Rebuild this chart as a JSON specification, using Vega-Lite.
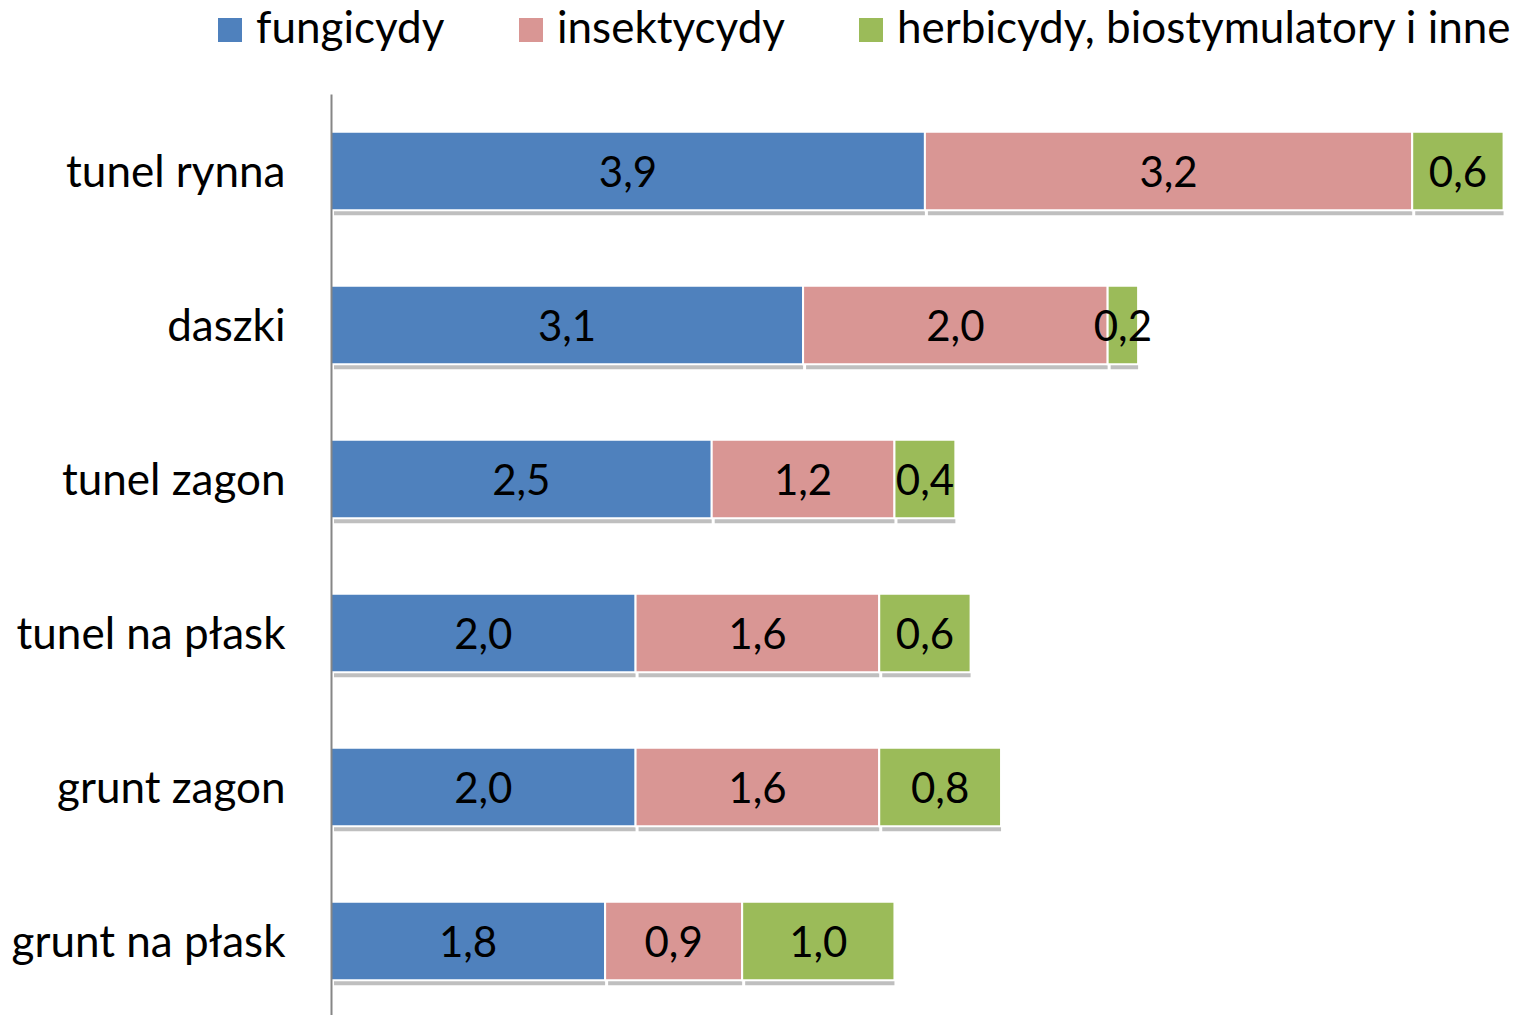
{
  "$schema": "https://vega.github.io/schema/vega-lite/v6.json",
  "width": 1200,
  "height": 924,
  "autosize": {"type": "none"},
  "padding": {"left": 331, "top": 94, "right": 0, "bottom": 0},
  "background": "white",
  "config": {
    "view": {"stroke": null},
    "font": "Lato",
    "locale": {"number": {"decimal": ",", "thousands": " ", "grouping": [3], "currency": ["", " zł"]}}
  },
  "data": {
    "values": [
      {"cat": "tunel rynna", "kat": "fungicydy", "v": 3.9},
      {"cat": "tunel rynna", "kat": "insektycydy", "v": 3.2},
      {"cat": "tunel rynna", "kat": "herbicydy, biostymulatory i inne", "v": 0.6},
      {"cat": "daszki", "kat": "fungicydy", "v": 3.1},
      {"cat": "daszki", "kat": "insektycydy", "v": 2.0},
      {"cat": "daszki", "kat": "herbicydy, biostymulatory i inne", "v": 0.2},
      {"cat": "tunel zagon", "kat": "fungicydy", "v": 2.5},
      {"cat": "tunel zagon", "kat": "insektycydy", "v": 1.2},
      {"cat": "tunel zagon", "kat": "herbicydy, biostymulatory i inne", "v": 0.4},
      {"cat": "tunel na płask", "kat": "fungicydy", "v": 2.0},
      {"cat": "tunel na płask", "kat": "insektycydy", "v": 1.6},
      {"cat": "tunel na płask", "kat": "herbicydy, biostymulatory i inne", "v": 0.6},
      {"cat": "grunt zagon", "kat": "fungicydy", "v": 2.0},
      {"cat": "grunt zagon", "kat": "insektycydy", "v": 1.6},
      {"cat": "grunt zagon", "kat": "herbicydy, biostymulatory i inne", "v": 0.8},
      {"cat": "grunt na płask", "kat": "fungicydy", "v": 1.8},
      {"cat": "grunt na płask", "kat": "insektycydy", "v": 0.9},
      {"cat": "grunt na płask", "kat": "herbicydy, biostymulatory i inne", "v": 1.0}
    ]
  },
  "transform": [
    {"calculate": "indexof(['fungicydy','insektycydy','herbicydy, biostymulatory i inne'], datum.kat)", "as": "ord"},
    {"stack": "v", "groupby": ["cat"], "sort": [{"field": "ord", "order": "ascending"}], "as": ["v0", "v1"]},
    {"calculate": "(datum.v0 + datum.v1) / 2", "as": "mid"}
  ],
  "encoding": {
    "y": {
      "field": "cat",
      "type": "nominal",
      "sort": ["tunel rynna", "daszki", "tunel zagon", "tunel na płask", "grunt zagon", "grunt na płask"],
      "scale": {"paddingInner": 0.49, "paddingOuter": 0.245},
      "axis": {
        "title": null,
        "ticks": false,
        "grid": false,
        "domainColor": "#868686",
        "domainWidth": 2,
        "labelFontSize": 44,
        "labelColor": "#000000",
        "labelPadding": 46,
        "labelOffset": 3,
        "labelFont": "Lato",
        "labelLimit": 400,
        "zindex": 1
      }
    }
  },
  "layer": [
    {
      "mark": {"type": "bar", "color": "#000000", "opacity": 0.25, "xOffset": 3, "yOffset": 5},
      "encoding": {
        "x": {"field": "v0", "type": "quantitative", "scale": {"domain": [0, 7.88], "nice": false}, "axis": null},
        "x2": {"field": "v1"}
      }
    },
    {
      "mark": {"type": "bar", "stroke": "white", "strokeWidth": 2},
      "encoding": {
        "x": {"field": "v0", "type": "quantitative", "scale": {"domain": [0, 7.88], "nice": false}, "axis": null},
        "x2": {"field": "v1"},
        "color": {
          "field": "kat",
          "type": "nominal",
          "scale": {
            "domain": ["fungicydy", "insektycydy", "herbicydy, biostymulatory i inne"],
            "range": ["#4F81BD", "#D99694", "#9BBB59"]
          },
          "legend": {
            "title": null,
            "orient": "none",
            "direction": "horizontal",
            "legendX": -123,
            "legendY": -86,
            "padding": 0,
            "symbolType": "square",
            "symbolSize": 576,
            "symbolStrokeWidth": 0,
            "labelFontSize": 44,
            "labelFont": "Lato",
            "labelColor": "#000000",
            "labelOffset": 4,
            "columnPadding": 64,
            "labelLimit": 800
          }
        }
      }
    },
    {
      "mark": {"type": "text", "fontSize": 42, "color": "#000000", "font": "Lato", "align": "center", "baseline": "middle", "dy": 3},
      "encoding": {
        "x": {"field": "mid", "type": "quantitative", "scale": {"domain": [0, 7.88], "nice": false}, "axis": null},
        "text": {"field": "v", "type": "quantitative", "format": ".1f"}
      }
    }
  ]
}
